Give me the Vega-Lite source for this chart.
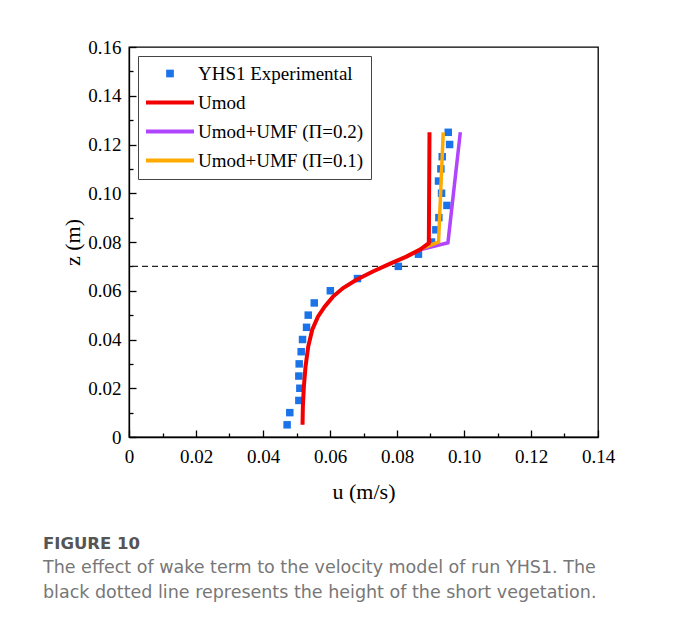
{
  "$schema": "https://vega.github.io/schema/vega-lite/v6.json",
  "autosize": "none",
  "width": 469,
  "height": 390,
  "padding": {"left": 129, "top": 47, "right": 79, "bottom": 193},
  "background": "white",
  "config": {
    "view": {"stroke": "black", "strokeWidth": 1.3},
    "axis": {
      "labelFont": "Liberation Serif", "labelFontSize": 19, "labelColor": "black",
      "titleFont": "Liberation Serif", "titleFontSize": 22, "titleFontWeight": "normal", "titleColor": "black",
      "domainColor": "black", "domainWidth": 1.3, "tickColor": "black", "tickWidth": 1.3,
      "grid": false
    }
  },
  "title": {
    "text": "FIGURE 10",
    "subtitle": ["The effect of wake term to the velocity model of run YHS1. The", "black dotted line represents the height of the short vegetation."],
    "orient": "bottom", "anchor": "start", "frame": "group", "dx": -86, "offset": 34,
    "font": "DejaVu Sans", "fontSize": 16.5, "fontWeight": 600, "color": "#555555",
    "subtitleFont": "DejaVu Sans", "subtitleFontSize": 17.5, "subtitleColor": "#777777", "subtitleLineHeight": 25, "subtitlePadding": 6
  },
  "datasets": {
    "exp": [
      {"u": 0.0472, "z": 0.005}, {"u": 0.0480, "z": 0.010}, {"u": 0.0507, "z": 0.015}, {"u": 0.0510, "z": 0.020},
      {"u": 0.0507, "z": 0.025}, {"u": 0.0508, "z": 0.030}, {"u": 0.0514, "z": 0.035}, {"u": 0.0518, "z": 0.040},
      {"u": 0.0530, "z": 0.045}, {"u": 0.0535, "z": 0.050}, {"u": 0.0553, "z": 0.055}, {"u": 0.0601, "z": 0.060},
      {"u": 0.0682, "z": 0.065}, {"u": 0.0804, "z": 0.070}, {"u": 0.0864, "z": 0.075}, {"u": 0.0903, "z": 0.080},
      {"u": 0.0916, "z": 0.085}, {"u": 0.0925, "z": 0.090}, {"u": 0.0949, "z": 0.095}, {"u": 0.0933, "z": 0.100},
      {"u": 0.0924, "z": 0.105}, {"u": 0.0931, "z": 0.110}, {"u": 0.0935, "z": 0.115}, {"u": 0.0957, "z": 0.120},
      {"u": 0.0953, "z": 0.125}
    ],
    "red": [
      {"u": 0.0518, "z": 0.005}, {"u": 0.0519, "z": 0.0125}, {"u": 0.0522, "z": 0.0207}, {"u": 0.0527, "z": 0.0289},
      {"u": 0.0535, "z": 0.0371}, {"u": 0.0547, "z": 0.044}, {"u": 0.0564, "z": 0.0494}, {"u": 0.0584, "z": 0.0535},
      {"u": 0.0609, "z": 0.0576}, {"u": 0.0639, "z": 0.0611}, {"u": 0.0679, "z": 0.0645}, {"u": 0.0728, "z": 0.0679},
      {"u": 0.0778, "z": 0.0710}, {"u": 0.0828, "z": 0.0740}, {"u": 0.0868, "z": 0.0768}, {"u": 0.0895, "z": 0.0795},
      {"u": 0.0897, "z": 0.125}
    ],
    "purple": [
      {"u": 0.0828, "z": 0.0740}, {"u": 0.0868, "z": 0.0768}, {"u": 0.0952, "z": 0.0797}, {"u": 0.0989, "z": 0.125}
    ],
    "orange": [
      {"u": 0.0828, "z": 0.0740}, {"u": 0.0868, "z": 0.0770}, {"u": 0.0924, "z": 0.0800}, {"u": 0.0938, "z": 0.125}
    ],
    "veg": [{"h": 0.07}]
  },
  "encoding": {
    "x": {"field": "u", "type": "quantitative",
      "scale": {"domain": [0, 0.14], "nice": false, "zero": false},
      "axis": {"title": "u (m/s)", "titlePadding": 12, "labelPadding": 17,
        "values": [0, 0.01, 0.02, 0.03, 0.04, 0.05, 0.06, 0.07, 0.08, 0.09, 0.1, 0.11, 0.12, 0.13, 0.14],
        "labelExpr": "round(datum.value*100) % 2 === 1 ? '' : (datum.value === 0 ? '0' : format(datum.value, '.2f'))",
        "tickSize": {"condition": {"test": "round(datum.value*100) % 2 === 1", "value": -4}, "value": -7},
        "labelFlush": false, "labelOverlap": false}
    },
    "y": {"field": "z", "type": "quantitative",
      "scale": {"domain": [0, 0.16], "nice": false, "zero": false},
      "axis": {"title": "z (m)", "titlePadding": 3, "labelPadding": 15,
        "values": [0, 0.01, 0.02, 0.03, 0.04, 0.05, 0.06, 0.07, 0.08, 0.09, 0.1, 0.11, 0.12, 0.13, 0.14, 0.15, 0.16],
        "labelExpr": "round(datum.value*100) % 2 === 1 ? '' : (datum.value === 0 ? '0' : format(datum.value, '.2f'))",
        "tickSize": {"condition": {"test": "round(datum.value*100) % 2 === 1", "value": -4}, "value": -7},
        "labelFlush": false, "labelOverlap": false}
    }
  },
  "layer": [
    {
      "data": {"name": "veg"},
      "mark": {"type": "rule", "strokeDash": [6, 4], "strokeWidth": 1.2, "color": "#222222"},
      "encoding": {"x": null, "y": {"field": "h", "type": "quantitative"}}
    },
    {
      "data": {"name": "exp"},
      "transform": [{"calculate": "'YHS1 Experimental'", "as": "series"}],
      "mark": {"type": "square", "size": 56, "filled": true, "opacity": 1},
      "encoding": {
        "color": {"field": "series", "type": "nominal",
          "scale": {"domain": ["YHS1 Experimental", "Umod", "Umod+UMF (Π=0.2)", "Umod+UMF (Π=0.1)"],
                    "range": ["#1A73E8", "#F20000", "#B044FF", "#FFAA00"]},
          "legend": {
            "title": null, "orient": "top-left", "offset": 9, "padding": 8,
            "strokeColor": "#444444", "fillColor": "white",
            "labelFont": "Liberation Serif", "labelFontSize": 19, "labelColor": "black", "labelOffset": 33, "labelLimit": 400,
            "symbolType": "stroke", "symbolSize": 2304, "symbolStrokeWidth": 4, "rowPadding": 9,
            "symbolOpacity": 1,
            "encode": {
              "symbols": {"update": {
                "x": {"value": 24},
                "shape": {"signal": "datum.value === 'YHS1 Experimental' ? 'M-0.16,-0.16H0.16V0.16H-0.16Z' : 'stroke'"},
                "fill": {"signal": "datum.value === 'YHS1 Experimental' ? '#1A73E8' : 'transparent'"},
                "stroke": {"scale": "color", "field": "value"},
                "strokeWidth": {"signal": "datum.value === 'YHS1 Experimental' ? 0 : 4"}
              }}
            }
          }
        }
      }
    },
    {
      "data": {"name": "purple"},
      "transform": [{"calculate": "'Umod+UMF (Π=0.2)'", "as": "series"}],
      "mark": {"type": "line", "strokeWidth": 3.5},
      "encoding": {"color": {"field": "series", "type": "nominal"}, "order": {"field": "z", "type": "quantitative"}}
    },
    {
      "data": {"name": "orange"},
      "transform": [{"calculate": "'Umod+UMF (Π=0.1)'", "as": "series"}],
      "mark": {"type": "line", "strokeWidth": 3.5},
      "encoding": {"color": {"field": "series", "type": "nominal"}, "order": {"field": "z", "type": "quantitative"}}
    },
    {
      "data": {"name": "red"},
      "transform": [{"calculate": "'Umod'", "as": "series"}],
      "mark": {"type": "line", "strokeWidth": 4},
      "encoding": {"color": {"field": "series", "type": "nominal"}, "order": {"field": "z", "type": "quantitative"}}
    }
  ]
}
